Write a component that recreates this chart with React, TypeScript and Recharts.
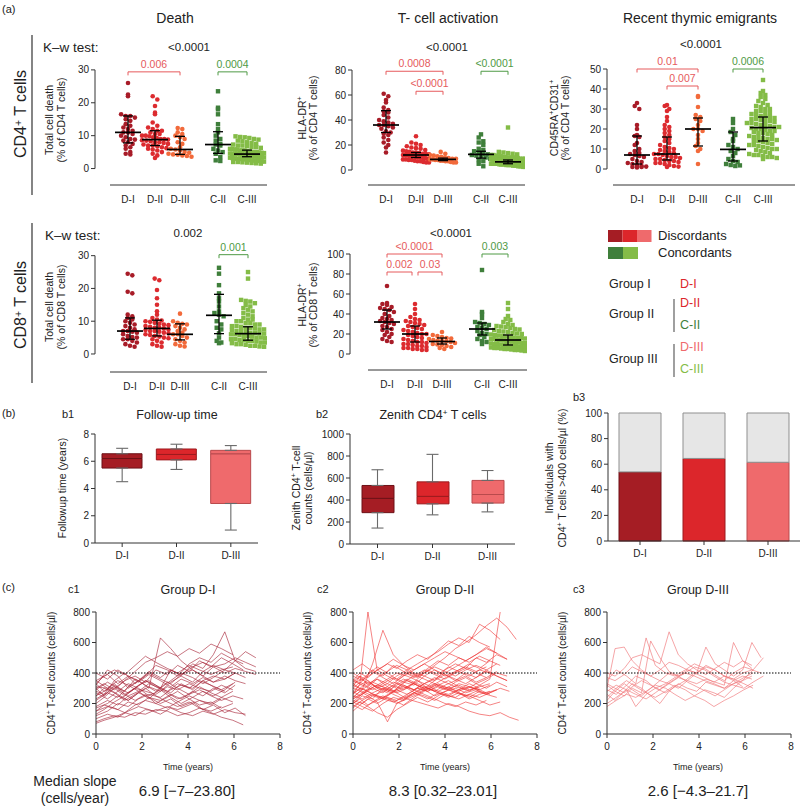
import React from 'react';
import {
  ScatterChart,
  Scatter,
  ComposedChart,
  BarChart,
  Bar,
  Cell,
  ErrorBar,
  LineChart,
  Line,
  XAxis,
  YAxis,
  ReferenceLine,
} from 'recharts';

const FONT = '"Liberation Sans", Arial, Helvetica, sans-serif';
const INK = '#222';
const AX = '#333';

const groups = ['D-I', 'D-II', 'D-III', 'C-II', 'C-III'];
const discGroups = ['D-I', 'D-II', 'D-III'];
const dotColors = ['#a81c28', '#dc2b2f', '#f26a3b', '#3f7f3b', '#84bc47'];
const discColors = ['#a51d24', '#dc262b', '#ef6a6c'];
const discStroke = ['#6d1117', '#9c1a1e', '#b94a4c'];
const concColors = ['#3f7f3b', '#84bc47'];
const RED = '#e65a5c';
const GREEN = '#4f9a45';

// ---- (a) CD4 total cell death
const cd4DeathDI = [26, 22.5, 22, 16.5, 16, 16, 15.5, 15, 14.5, 13.5, 13, 12.5, 12, 11.5, 11, 11, 10.5, 10, 9.5, 9, 8.8, 8.5, 8, 7.5, 7, 6.5, 6, 5, 4.5, 4.3];
const cd4DeathDII = [22, 21, 19, 17, 16.5, 14, 13, 12.5, 12, 11.5, 11.5, 11, 10.5, 10.5, 10, 10, 9.8, 9.5, 9.3, 9, 9, 8.8, 8.6, 8.5, 8.3, 8, 8, 7.8, 7.5, 7.3, 7, 7, 6.8, 6.5, 6.2, 6, 5.8, 5.5, 5, 4.5, 4, 3.2];
const cd4DeathDIII = [12.3, 12, 11, 10.5, 10, 9.5, 9, 8, 7.5, 6.5, 6, 5.8, 5.5, 5, 4.8, 4.5, 4.3, 4.2, 4, 3.8, 3.6];
const cd4DeathCII = [23.5, 18.5, 18, 16.5, 13.5, 12, 11, 10, 9, 8.5, 7.5, 7.3, 7, 6, 5.5, 5, 4.5, 3.5, 2.5, 2.3];
const cd4DeathCIII = [9.8, 9.6, 9.5, 9.3, 9, 8.8, 8.5, 8.3, 8, 7.8, 7.5, 7.3, 7, 7, 6.8, 6.5, 6.5, 6.3, 6, 6, 5.8, 5.8, 5.5, 5.5, 5.5, 5.3, 5.2, 5, 5, 5, 4.9, 4.8, 4.7, 4.6, 4.5, 4.5, 4.5, 4.4, 4.3, 4.2, 4.1, 4, 4, 4, 3.9, 3.8, 3.7, 3.6, 3.5, 3.5, 3.4, 3.3, 3.2, 3.1, 3, 3, 2.9, 2.8, 2.7, 2.6, 2.5, 2.5, 2.4, 2.3, 2.2, 2.1, 2, 2, 1.9, 1.8, 1.7, 1.6, 1.5];
// median, q1, q3 per group
const cd4DeathStats = [[11, 7.8, 16], [8.8, 7, 11.5], [5.8, 4.3, 9.8], [7.3, 4.6, 11.2], [4.4, 3.6, 5.6]];

// ---- (a) CD4 HLA-DR+
const cd4HlaDI = [61, 59, 56, 54, 50, 48, 47, 46, 44, 42, 40, 39, 38, 37, 36, 36, 35, 34, 33, 31, 30, 29, 28, 26, 24, 22, 20, 18, 14];
const cd4HlaDII = [27, 22, 21, 20, 19, 18, 17.5, 17, 16, 15.5, 15, 14.5, 14, 14, 13.5, 13, 13, 12.5, 12, 12, 12, 11.5, 11.5, 11, 11, 10.5, 10.5, 10, 10, 9.5, 9.5, 9, 9, 8.5, 8.5, 8, 8, 7.5, 7, 7, 6.5, 6, 6];
const cd4HlaDIII = [14.5, 13, 12, 11.5, 11, 10.5, 10, 9.5, 9, 9, 8.5, 8.5, 8, 8, 7.5, 7.5, 7, 7, 6.5, 6, 6];
const cd4HlaCII = [28.5, 26, 23, 22, 20, 17, 16, 15, 14, 13, 12.5, 12, 11.5, 11, 10, 9, 8, 7, 5, 3];
const cd4HlaCIII = [34, 14.5, 14, 13.5, 13, 12.5, 12, 12, 11.5, 11, 11, 10.5, 10.5, 10, 10, 10, 9.5, 9.5, 9, 9, 9, 8.5, 8.5, 8.5, 8, 8, 8, 8, 7.5, 7.5, 7.5, 7, 7, 7, 7, 6.5, 6.5, 6.5, 6.5, 6, 6, 6, 6, 6, 5.5, 5.5, 5.5, 5.5, 5, 5, 5, 5, 5, 4.5, 4.5, 4.5, 4.5, 4, 4, 4, 4, 3.5, 3.5, 3.5, 3, 3, 3, 2.5, 2.5];
const cd4HlaStats = [[36, 30, 47.5], [12, 10, 14], [8.5, 7.5, 9.5], [12.5, 9.5, 15], [6.5, 5, 8]];

// ---- (a) Recent thymic emigrants
const rteDI = [33, 31.5, 30, 22, 20, 17, 16.5, 16, 13, 12, 10, 9, 8, 7.5, 7, 6.5, 6, 5, 4, 3.5, 3, 2.5, 2, 1.5, 1.2, 1, 0.8, 1];
const rteDII = [32, 31.5, 30, 29, 26, 24, 22, 21, 20, 19, 18, 17, 16, 15, 14, 13, 12, 11, 10.5, 10, 9.5, 9, 8.5, 8, 7.5, 7.5, 7, 6.5, 6, 6, 5.5, 5, 5, 4.5, 4, 4, 3.5, 3, 3, 2.5, 2, 1.5, 1.2, 1];
const rteDIII = [36.5, 36, 31, 27, 26, 25, 24, 22, 20, 20, 19, 17, 15, 13, 11.5, 10, 9, 2.5];
const rteCII = [25, 23, 20, 18.5, 17, 15, 14, 12, 11, 10, 9, 8, 6.5, 5, 4, 3.5, 2.5, 2, 1.5, 1.8];
const rteCIII = [44.5, 39, 38, 37, 36, 35, 34, 33, 32, 31.5, 31, 30, 30, 29, 29, 28, 28, 27.5, 27, 26.5, 26, 26, 25.5, 25, 25, 24.5, 24, 24, 23.5, 23, 23, 22.5, 22, 22, 21.5, 21, 21, 20.5, 20, 20, 19.5, 19, 19, 18.5, 18, 18, 17.5, 17, 16.5, 16, 16, 15.5, 15, 15, 14.5, 14, 14, 13.5, 13, 12.5, 12, 12, 11.5, 11, 10.5, 10, 10, 9.5, 9, 8.5, 8, 7.5, 7, 7, 6.5, 6, 6, 5.5, 5];
const rteStats = [[7, 2.5, 16.5], [7.5, 4.5, 16], [20, 11.5, 25.5], [9.8, 4, 18.5], [20.7, 14, 26]];

// ---- (a) CD8 total cell death
const cd8DeathDI = [24.5, 24, 19, 18.5, 12, 11.5, 11, 10.5, 10, 9.5, 9, 8.5, 8, 7.5, 7, 7, 6.8, 6.5, 6, 5.5, 5.2, 5, 4.5, 4.5, 4, 3.5, 3, 2.5, 2.2];
const cd8DeathDII = [23, 22.5, 19.5, 17, 15, 13, 12, 11, 10.5, 10.2, 10, 9.8, 9.5, 9.2, 9, 8.8, 8.5, 8.3, 8, 8, 7.8, 7.5, 7.3, 7, 7, 6.8, 6.5, 6.3, 6, 5.8, 5.5, 5.3, 5, 4.8, 4.5, 4, 3.5, 3, 2.5, 2.2];
const cd8DeathDIII = [12.3, 10, 9.5, 9.2, 9, 8.5, 8, 7.5, 7, 6.5, 6, 6, 5.5, 5, 4.5, 4, 3.5, 3, 2.5, 2.3];
const cd8DeathCII = [26.3, 24.5, 21, 18.5, 17, 16, 14.5, 13, 12.5, 12, 11.5, 10, 9, 8, 7.5, 6.3, 5, 4, 3.5, 3.3];
const cd8DeathCIII = [25, 23, 16.5, 16.2, 16, 15.5, 15, 14.5, 14, 13.5, 13, 12.5, 12, 11.5, 11, 10.5, 10.5, 10, 10, 9.5, 9.5, 9, 9, 8.5, 8.5, 8.3, 8, 8, 7.8, 7.5, 7.5, 7.3, 7, 7, 6.8, 6.5, 6.5, 6.3, 6.2, 6, 6, 5.8, 5.5, 5.5, 5.3, 5, 5, 4.8, 4.5, 4.5, 4.3, 4.2, 4, 4, 3.8, 3.5, 3.5, 3.3, 3, 3, 2.8, 2.5, 2.5, 2.3, 2.2];
const cd8DeathStats = [[7, 4.5, 11], [7.8, 5.5, 10.3], [6, 4.3, 9.2], [11.8, 6.2, 18.2], [6.2, 4.2, 8.3]];

// ---- (a) CD8 HLA-DR+
const cd8HlaDI = [68, 51, 50, 49, 47, 46, 45, 44, 42, 40, 38, 36, 35, 34, 33, 32, 31, 30, 28, 27, 25, 24, 22, 20, 19, 17, 15, 13, 12];
const cd8HlaDII = [50, 45, 40, 37, 35, 34, 33, 32, 31, 30, 29, 28, 27, 26, 25, 24, 23, 22, 21, 20, 20, 19, 18, 17, 16, 15, 14, 13, 12, 12, 11, 10, 10, 9, 8, 8, 7, 6, 6, 5, 5, 4, 4];
const cd8HlaDIII = [22, 19, 18, 17, 16, 15.5, 15, 14, 13.5, 13, 12.5, 12, 11, 10, 9.5, 9, 8, 7, 6, 5];
const cd8HlaCII = [84, 42, 40, 36, 32, 31, 30, 29, 27, 26, 25, 23, 21, 20, 19, 17, 15, 13, 12, 10];
const cd8HlaCIII = [51, 45, 38, 35, 34, 32, 30, 29, 28, 27.5, 27, 26, 25, 24.5, 24, 23, 22.5, 22, 21, 20.5, 20, 19.5, 19, 18.5, 18, 17.5, 17, 16.5, 16, 16, 15.5, 15, 15, 14.5, 14, 14, 13.5, 13, 13, 12.5, 12, 12, 11.5, 11, 11, 10.5, 10, 10, 9.5, 9, 9, 8.5, 8, 8, 7.5, 7, 7, 6.5, 6, 6, 5.5, 5, 5, 4.5, 4, 4, 3.5, 3];
const cd8HlaStats = [[32, 25, 44], [20, 12, 28], [12.5, 10, 16], [25, 19, 31], [14, 9, 19]];

// ---- (b) box plots: min, q1, median, q3, max
const followMin = [4.5, 5.4, 0.95];
const followQ1 = [5.5, 6.1, 2.9];
const followMed = [6.2, 6.5, 6.55];
const followQ3 = [6.55, 6.9, 6.8];
const followMax = [6.95, 7.25, 7.15];

const zenithMin = [145, 265, 292];
const zenithQ1 = [285, 365, 372];
const zenithMed = [415, 433, 450];
const zenithQ3 = [532, 565, 578];
const zenithMax = [675, 815, 668];

const above400Pct = [54, 64.5, 61.5];

// ---- (c) CD4 counts over time (years)
const c1TimesA = [0, 0.35, 0.8, 1.25, 1.7, 2.15, 2.6, 3.1, 3.55, 4.05, 4.5, 5.0, 5.45, 5.95, 6.4, 6.9, 7.3];
const c1TimesB = [0, 0.5, 0.95, 1.4, 1.85, 2.3, 2.8, 3.25, 3.7, 4.2, 4.65, 5.1, 5.6, 6.05, 6.5, 6.95];
const c1Counts = [
  [300, 330, 290, 350, 380, 340, 420, 390, 450, 410, 480, 440, 500, 460, 420],
  [150, 180, 160, 210, 190, 240, 220, 260, 230, 280, 250, 300, 270, 320],
  [80, 100, 120, 110, 140, 130, 160, 150, 120, 140, 170, 150, 180],
  [320, 420, 380, 300, 350, 400, 360, 330, 390, 420, 380, 440, 400, 430, 410, 390],
  [250, 280, 330, 260, 300, 350, 320, 280, 330, 300, 350, 320, 290, 330],
  [350, 300, 260, 220, 270, 240, 200, 230, 180, 210, 160, 190, 140, 170, 120],
  [200, 240, 300, 350, 410, 470, 500, 540, 510, 560, 530, 590, 560, 520],
  [120, 150, 200, 180, 230, 260, 240, 290, 320, 300, 350, 380, 360, 400, 370],
  [280, 260, 350, 400, 330, 380, 450, 420, 380, 460, 500, 470, 530, 490, 460],
  [180, 220, 190, 250, 280, 230, 300, 270, 330, 290, 350, 310, 280],
  [330, 380, 420, 390, 450, 510, 470, 430, 400, 450, 420, 390, 420, 440],
  [100, 130, 110, 150, 180, 160, 130, 170, 140, 120, 150, 130, 160, 140, 130],
  [300, 250, 320, 280, 360, 320, 280, 340, 300, 260, 310, 270, 240, 280],
  [220, 270, 240, 310, 350, 300, 630, 560, 480, 420, 380, 340, 360, 400],
  [330, 280, 310, 260, 220, 260, 200, 240, 280, 230, 190, 210, 170, 200],
  [170, 200, 250, 220, 270, 310, 280, 340, 380, 340, 410, 450, 420, 480, 540, 500],
  [250, 300, 270, 220, 260, 300, 250, 210, 180, 210, 170, 140, 110, 90, 60],
  [400, 360, 420, 380, 340, 390, 350, 310, 360, 330, 370, 340, 380, 350, 330],
  [150, 190, 170, 140, 190, 220, 200, 170, 210, 250, 220, 190, 230],
  [290, 340, 300, 270, 320, 350, 300, 420, 380, 460, 430, 520, 670, 480, 430, 410],
  [130, 160, 210, 250, 300, 280, 260, 310, 290, 330, 300, 280, 320, 290],
  [350, 390, 330, 380, 350, 410, 370, 420, 390, 440, 470, 440, 460, 500, 470, 440],
  [230, 260, 300, 250, 300, 350, 310, 270, 230, 260, 290, 250, 220, 250, 230],
  [310, 300, 350, 320, 280, 330, 300, 350, 400, 370, 330, 370, 420, 400],
  [70, 90, 110, 140, 120, 160, 150, 180, 160, 190, 220, 200, 240, 210],
  [270, 230, 280, 330, 300, 250, 290, 240, 200, 240, 280, 250, 290, 340],
];

const c2TimesA = [0, 0.3, 0.65, 1.05, 1.5, 1.9, 2.35, 2.8, 3.25, 3.7, 4.15, 4.6, 5.05, 5.5, 5.95, 6.4, 6.8, 7.2];
const c2TimesB = [0, 0.4, 0.85, 1.3, 1.75, 2.2, 2.65, 3.1, 3.55, 4.0, 4.45, 4.9, 5.35, 5.8, 6.25, 6.7, 7.1, 7.4];
const c2Counts = [
  [260, 330, 800, 420, 380, 350, 400, 370, 420, 390, 440, 410, 380, 420, 400],
  [200, 250, 230, 300, 280, 340, 320, 380, 350, 420, 460, 430, 500, 470, 520, 490],
  [330, 300, 280, 250, 230, 200, 230, 210, 190, 170, 200, 180, 150, 130, 120, 140, 110, 90],
  [240, 290, 460, 680, 520, 450, 400, 380, 420, 390, 350, 380, 340, 370],
  [300, 340, 310, 360, 330, 300, 350, 320, 290, 330, 300, 280, 310, 290, 320],
  [180, 220, 260, 240, 280, 310, 290, 330, 360, 400, 440, 480, 520, 570, 530, 490],
  [350, 400, 370, 420, 460, 430, 480, 520, 490, 550, 610, 580, 640, 600, 570],
  [220, 200, 250, 230, 210, 240, 270, 250, 220, 260, 240, 280, 300, 270, 290],
  [280, 320, 350, 300, 330, 380, 420, 460, 500, 540, 590, 630, 600, 720, 680, 620],
  [250, 230, 270, 300, 260, 230, 270, 300, 330, 300, 270, 250, 280, 260, 240],
  [310, 380, 350, 300, 270, 330, 300, 350, 320, 280, 310, 270, 230, 260, 280],
  [190, 160, 210, 250, 220, 190, 240, 280, 320, 290, 340, 370, 330, 360, 400, 380],
  [360, 330, 390, 440, 400, 360, 410, 380, 430, 480, 450, 500, 470, 510, 480],
  [230, 260, 300, 270, 320, 290, 340, 400, 450, 500, 560, 600, 650, 710, 760, 700, 620],
  [400, 370, 330, 360, 310, 270, 300, 260, 230, 270, 250, 290, 330, 300],
  [270, 300, 260, 230, 280, 320, 290, 330, 370, 340, 310, 290, 330, 300, 340, 310],
  [170, 210, 180, 140, 110, 160, 200, 240, 210, 250, 290, 270, 240, 280],
  [330, 360, 420, 380, 450, 410, 370, 400, 440, 410, 380, 420, 450, 420, 460],
  [210, 250, 290, 320, 360, 400, 380, 350, 300, 270, 250, 230, 260, 240, 270, 300, 280],
  [300, 280, 250, 280, 320, 360, 330, 300, 350, 390, 360, 330, 370, 420, 380, 350],
  [240, 280, 250, 210, 80, 200, 240, 270, 300, 280, 260, 290, 310, 290],
  [350, 320, 290, 330, 370, 340, 380, 420, 390, 360, 400, 430, 400, 370, 410],
  [260, 300, 340, 310, 280, 320, 360, 330, 300, 270, 240, 270, 250, 220, 190, 210],
  [420, 460, 410, 370, 330, 380, 420, 460, 500, 540, 510, 480, 520, 560, 530],
  [200, 230, 190, 220, 250, 290, 260, 300, 280, 320, 350, 310, 280, 320, 360, 800],
  [320, 290, 340, 310, 270, 300, 330, 290, 250, 280, 300, 270, 290, 260, 290],
  [150, 190, 230, 200, 240, 220, 260, 300, 280, 310, 290, 330, 310, 280, 260],
  [380, 350, 400, 440, 490, 450, 420, 460, 420, 380, 410, 440, 410, 440],
  [280, 250, 290, 320, 300, 270, 230, 260, 300, 340, 380, 420, 460, 430, 480, 450],
  [230, 270, 320, 290, 340, 320, 290, 260, 230, 200, 180, 210, 190, 220],
  [340, 380, 320, 370, 410, 450, 420, 380, 350, 320, 300, 320, 290, 310, 330],
  [210, 180, 150, 200, 240, 220, 270, 310, 280, 320, 350, 400, 370, 410, 380, 350],
];

const c3TimesA = [0, 0.35, 0.75, 1.1, 1.5, 1.9, 2.3, 2.7, 3.1, 3.5, 3.9, 4.3, 4.7, 5.1, 5.5, 5.9, 6.3, 6.7, 7.1];
const c3TimesB = [0, 0.4, 0.85, 1.25, 1.7, 2.1, 2.55, 2.95, 3.4, 3.8, 4.25, 4.65, 5.1, 5.5, 5.95, 6.35, 6.8, 7.1];
const c3Counts = [
  [300, 560, 570, 480, 420, 380, 350, 400, 380, 420, 400, 440, 420, 380, 360, 400, 420, 400],
  [350, 420, 380, 330, 630, 450, 400, 380, 420, 460, 430, 390, 350, 400, 440, 420],
  [260, 220, 280, 330, 300, 250, 200, 280, 330, 300, 280, 340, 320, 300, 350, 380, 360],
  [200, 240, 290, 260, 230, 270, 320, 360, 400, 440, 420, 380, 340, 320, 300, 340, 380],
  [400, 380, 430, 500, 520, 490, 460, 670, 520, 460, 420, 390, 430, 470, 440, 480, 450],
  [280, 320, 290, 180, 260, 300, 330, 370, 400, 380, 350, 330, 300, 330, 370, 400],
  [320, 280, 250, 300, 270, 610, 500, 410, 380, 340, 310, 280, 250, 290, 330, 350, 380],
  [180, 220, 260, 240, 280, 320, 300, 260, 220, 250, 290, 270, 240, 300, 360, 420, 500],
  [370, 350, 390, 440, 410, 380, 420, 470, 450, 420, 400, 570, 460, 420, 380, 420, 600, 500],
  [240, 300, 350, 310, 270, 240, 280, 320, 290, 250, 220, 180, 220, 250, 290, 320],
  [330, 300, 270, 310, 350, 320, 290, 330, 370, 350, 330, 360, 340, 320, 600, 480, 430],
  [290, 260, 320, 380, 350, 300, 270, 310, 350, 400, 370, 340, 380, 360, 330, 300],
  [220, 280, 330, 290, 250, 300, 350, 330, 300, 350, 400, 450, 420, 380, 350, 310],
];

const YW = 30;
const XH = 22;
const tickStyle = { fontSize: 10, fill: INK };

// scatter-dot layout: points in the same height band are spread sideways
function swarm(values: number[], cx: number, ppu: number, maxHalf: number) {
  const bins = new Map<number, number[]>();
  values.forEach((v) => {
    const b = Math.round((v * ppu) / 4.4);
    if (!bins.has(b)) bins.set(b, []);
    bins.get(b)!.push(v);
  });
  const pts: { x: number; y: number }[] = [];
  bins.forEach((list) => {
    const n = list.length;
    const step = n > 1 ? Math.min(4.6, (2 * maxHalf) / (n - 1)) : 0;
    list.forEach((v, i) => pts.push({ x: cx + (i - (n - 1) / 2) * step, y: v }));
  });
  return pts;
}

type Br = { a: number; b: number; v: number; text: string; color: string; pa?: number; pb?: number };
type PanelProps = {
  axisX: number;
  top: number;
  bottom: number;
  width: number;
  domain: [number, number];
  ticks: number[];
  catX: number[];
  axisStart: number;
  values: number[][];
  stats: number[][];
  brackets: Br[];
};

const ScatterPanel = (p: PanelProps) => {
  const h = p.bottom - p.top;
  const ppu = h / (p.domain[1] - p.domain[0]);
  const topTick = p.ticks[p.ticks.length - 1];
  const drop = 3.5 / ppu;
  return (
    <div style={{ position: 'absolute', left: p.axisX - YW, top: p.top }}>
      <ScatterChart width={YW + p.width + 4} height={h + XH} margin={{ top: 0, right: 4, bottom: 0, left: 0 }}>
        <XAxis
          type="number"
          dataKey="x"
          domain={[0, p.width]}
          allowDataOverflow
          ticks={p.catX}
          interval={0}
          tickFormatter={(v) => groups[p.catX.indexOf(v)]}
          axisLine={false}
          tickLine={false}
          tickMargin={5}
          height={XH}
          tick={tickStyle}
        />
        <YAxis
          type="number"
          dataKey="y"
          domain={p.domain}
          allowDataOverflow
          ticks={p.ticks}
          interval={0}
          width={YW}
          axisLine={false}
          tickSize={4}
          tickLine={{ stroke: AX }}
          tick={tickStyle}
        />
        {p.values.map((vals, gi) => (
          <Scatter
            key={gi}
            data={swarm(vals, p.catX[gi], ppu, gi === 4 ? 17 : 13)}
            fill={dotColors[gi]}
            isAnimationActive={false}
            shape={(s: any) =>
              gi >= 3 ? (
                <rect x={s.cx - 2.2} y={s.cy - 2.2} width={4.4} height={4.4} fill={dotColors[gi]} />
              ) : (
                <circle cx={s.cx} cy={s.cy} r={2.3} fill={dotColors[gi]} />
              )
            }
          />
        ))}
        <ReferenceLine segment={[{ x: 0, y: 0 }, { x: 0, y: topTick }]} stroke={AX} />
        <ReferenceLine segment={[{ x: p.axisStart, y: p.domain[0] }, { x: p.width, y: p.domain[0] }]} stroke={AX} />
        {p.stats.map(([m, q1, q3], gi) => {
          const cx = p.catX[gi];
          return (
            <React.Fragment key={'s' + gi}>
              <ReferenceLine segment={[{ x: cx - 13, y: m }, { x: cx + 13, y: m }]} stroke="#000" strokeWidth={1.7} zIndex={900} />
              <ReferenceLine segment={[{ x: cx, y: q1 }, { x: cx, y: q3 }]} stroke="#000" strokeWidth={1.3} zIndex={900} />
              <ReferenceLine segment={[{ x: cx - 5, y: q1 }, { x: cx + 5, y: q1 }]} stroke="#000" strokeWidth={1.3} zIndex={900} />
              <ReferenceLine segment={[{ x: cx - 5, y: q3 }, { x: cx + 5, y: q3 }]} stroke="#000" strokeWidth={1.3} zIndex={900} />
            </React.Fragment>
          );
        })}
        {p.brackets.map((br, i) => {
          const x1 = p.catX[br.a] + (br.pa || 0);
          const x2 = p.catX[br.b] - (br.pb || 0);
          return (
            <React.Fragment key={'b' + i}>
              <ReferenceLine
                segment={[{ x: x1, y: br.v }, { x: x2, y: br.v }]}
                stroke={br.color}
                label={{ value: br.text, position: 'top', fill: br.color, fontSize: 10.5, offset: 4 }}
              />
              <ReferenceLine segment={[{ x: x1, y: br.v }, { x: x1, y: br.v - drop }]} stroke={br.color} />
              <ReferenceLine segment={[{ x: x2, y: br.v }, { x: x2, y: br.v - drop }]} stroke={br.color} />
            </React.Fragment>
          );
        })}
      </ScatterChart>
    </div>
  );
};

type BoxProps = {
  axisX: number;
  top: number;
  bottom: number;
  width: number;
  domain: [number, number];
  ticks: number[];
  mins: number[];
  q1s: number[];
  meds: number[];
  q3s: number[];
  maxs: number[];
  barSize: number;
};

const BoxPanel = (p: BoxProps) => {
  const h = p.bottom - p.top;
  const rows = discGroups.map((name, i) => ({
    name,
    base: p.q1s[i],
    lower: p.meds[i] - p.q1s[i],
    upper: p.q3s[i] - p.meds[i],
  }));
  const upperWhisker = discGroups.map((name, i) => ({ name, y: p.q3s[i], err: [0, p.maxs[i] - p.q3s[i]] }));
  const lowerWhisker = discGroups.map((name, i) => ({ name, y: p.q1s[i], err: [p.q1s[i] - p.mins[i], 0] }));
  const whisk = '#6a6a6a';
  return (
    <div style={{ position: 'absolute', left: p.axisX - YW, top: p.top - 6 }}>
      <ComposedChart width={YW + p.width + 8} height={6 + h + XH} data={rows} margin={{ top: 6, right: 8, bottom: 0, left: 0 }}>
        <XAxis dataKey="name" allowDuplicatedCategory={false} tickSize={4} tickMargin={5} height={XH} stroke={AX} tick={tickStyle} />
        <YAxis dataKey="y" domain={p.domain} ticks={p.ticks} interval={0} width={YW} tickSize={4} stroke={AX} tick={tickStyle} allowDataOverflow />
        <Scatter data={upperWhisker} dataKey="y" shape={() => <g />} isAnimationActive={false}>
          <ErrorBar dataKey="err" direction="y" width={6} stroke={whisk} strokeWidth={1.1} />
        </Scatter>
        <Scatter data={lowerWhisker} dataKey="y" shape={() => <g />} isAnimationActive={false}>
          <ErrorBar dataKey="err" direction="y" width={6} stroke={whisk} strokeWidth={1.1} />
        </Scatter>
        <Bar dataKey="base" stackId="b" fill="none" barSize={p.barSize} isAnimationActive={false} />
        <Bar dataKey="lower" stackId="b" barSize={p.barSize} isAnimationActive={false}>
          {rows.map((r, i) => (
            <Cell key={r.name} fill={discColors[i]} stroke={discStroke[i]} strokeWidth={1} />
          ))}
        </Bar>
        <Bar dataKey="upper" stackId="b" barSize={p.barSize} isAnimationActive={false}>
          {rows.map((r, i) => (
            <Cell key={r.name} fill={discColors[i]} stroke={discStroke[i]} strokeWidth={1} />
          ))}
        </Bar>
      </ComposedChart>
    </div>
  );
};

const PctPanel = () => {
  const rows = discGroups.map((name, i) => ({ name, above: above400Pct[i], rest: 100 - above400Pct[i] }));
  return (
    <div style={{ position: 'absolute', left: 608 - YW, top: 413 - 6 }}>
      <BarChart width={YW + 192} height={6 + 128 + XH} data={rows} margin={{ top: 6, right: 0, bottom: 0, left: 0 }}>
        <XAxis dataKey="name" tickSize={4} tickMargin={5} height={XH} stroke={AX} tick={tickStyle} />
        <YAxis domain={[0, 100]} ticks={[0, 20, 40, 60, 80, 100]} interval={0} width={YW} tickSize={4} stroke={AX} tick={tickStyle} />
        <Bar dataKey="above" stackId="s" barSize={42} isAnimationActive={false}>
          {rows.map((r, i) => (
            <Cell key={r.name} fill={discColors[i]} stroke={discStroke[i]} strokeWidth={1} />
          ))}
        </Bar>
        <Bar dataKey="rest" stackId="s" barSize={42} fill="#e6e6e6" stroke="#8f8f8f" strokeWidth={1} isAnimationActive={false} />
      </BarChart>
    </div>
  );
};

type LineProps = { axisX: number; lines: number[][]; timesA: number[]; timesB: number[]; color: string; opacity: number };

const LinePanel = (p: LineProps) => (
  <div style={{ position: 'absolute', left: p.axisX - YW, top: 612 - 6 }}>
    <LineChart width={YW + 184 + 8} height={6 + 122 + XH} margin={{ top: 6, right: 8, bottom: 0, left: 0 }}>
      <XAxis type="number" dataKey="t" domain={[0, 8]} ticks={[0, 2, 4, 6, 8]} interval={0} allowDataOverflow tickSize={4} tickMargin={5} height={XH} stroke={AX} tick={tickStyle} />
      <YAxis type="number" domain={[0, 800]} ticks={[0, 200, 400, 600, 800]} interval={0} allowDataOverflow width={YW} tickSize={4} stroke={AX} tick={tickStyle} />
      {p.lines.map((vals, i) => {
        const times = i % 2 ? p.timesB : p.timesA;
        return (
          <Line
            key={i}
            data={vals.map((v, k) => ({ t: times[k], v }))}
            dataKey="v"
            stroke={p.color}
            strokeWidth={0.8}
            strokeOpacity={p.opacity}
            dot={false}
            isAnimationActive={false}
          />
        );
      })}
      <ReferenceLine y={400} stroke="#000" strokeWidth={1} strokeDasharray="1.5 1.5" />
    </LineChart>
  </div>
);

const Txt = ({ x, y, size = 10, anchor = 'start', fill = INK, rotate = false, children }: any) => (
  <text x={x} y={y} fontSize={size} textAnchor={anchor} fill={fill} transform={rotate ? `rotate(-90 ${x} ${y})` : undefined}>
    {children}
  </text>
);

// superscript followed by text back on the baseline
const sup = (s: string, rest = '') => (
  <>
    <tspan dy={-4} fontSize="65%">{s}</tspan>
    <tspan dy={4}>{rest}</tspan>
  </>
);

export default function App() {
  return (
    <div style={{ position: 'absolute', left: 0, top: 0, width: 800, height: 806, background: '#fff', fontFamily: FONT, overflow: 'hidden' }}>
      <ScatterPanel
        axisX={95} top={37} bottom={185} width={172} domain={[-5, 40]} ticks={[0, 10, 20, 30]}
        catX={[33, 60, 85, 123, 152]} axisStart={15}
        values={[cd4DeathDI, cd4DeathDII, cd4DeathDIII, cd4DeathCII, cd4DeathCIII]} stats={cd4DeathStats}
        brackets={[
          { a: 0, b: 2, v: 29.4, text: '0.006', color: RED },
          { a: 3, b: 4, v: 29.4, text: '0.0004', color: GREEN },
        ]}
      />
      <ScatterPanel
        axisX={352} top={45} bottom={185} width={173} domain={[-12, 100]} ticks={[0, 20, 40, 60, 80]}
        catX={[34, 64, 91, 129, 156]} axisStart={16}
        values={[cd4HlaDI, cd4HlaDII, cd4HlaDIII, cd4HlaCII, cd4HlaCIII]} stats={cd4HlaStats}
        brackets={[
          { a: 0, b: 2, v: 79, text: '0.0008', color: RED },
          { a: 1, b: 2, v: 63, text: '<0.0001', color: RED },
          { a: 3, b: 4, v: 79, text: '<0.0001', color: GREEN },
        ]}
      />
      <ScatterPanel
        axisX={607} top={45} bottom={185} width={188} domain={[-8, 62]} ticks={[0, 10, 20, 30, 40, 50]}
        catX={[30, 60, 91, 126, 156]} axisStart={6}
        values={[rteDI, rteDII, rteDIII, rteCII, rteCIII]} stats={rteStats}
        brackets={[
          { a: 0, b: 2, v: 50, text: '0.01', color: RED },
          { a: 1, b: 2, v: 41.5, text: '0.007', color: RED },
          { a: 3, b: 4, v: 50, text: '0.0006', color: GREEN },
        ]}
      />
      <ScatterPanel
        axisX={95} top={236} bottom={372} width={172} domain={[-5.5, 36]} ticks={[0, 10, 20, 30]}
        catX={[35, 62, 85, 124, 153]} axisStart={15}
        values={[cd8DeathDI, cd8DeathDII, cd8DeathDIII, cd8DeathCII, cd8DeathCIII]} stats={cd8DeathStats}
        brackets={[{ a: 3, b: 4, v: 30.3, text: '0.001', color: GREEN }]}
      />
      <ScatterPanel
        axisX={350} top={236} bottom={370} width={177} domain={[-16, 118]} ticks={[0, 20, 40, 60, 80, 100]}
        catX={[37, 65, 92, 132, 158]} axisStart={18}
        values={[cd8HlaDI, cd8HlaDII, cd8HlaDIII, cd8HlaCII, cd8HlaCIII]} stats={cd8HlaStats}
        brackets={[
          { a: 0, b: 2, v: 100, text: '<0.0001', color: RED },
          { a: 0, b: 1, v: 82, text: '0.002', color: RED, pb: 3 },
          { a: 1, b: 2, v: 82, text: '0.03', color: RED, pa: 3 },
          { a: 3, b: 4, v: 100, text: '0.003', color: GREEN },
        ]}
      />

      <BoxPanel axisX={95} top={434} bottom={543} width={163} domain={[0, 8]} ticks={[0, 2, 4, 6, 8]}
        mins={followMin} q1s={followQ1} meds={followMed} q3s={followQ3} maxs={followMax} barSize={40} />
      <BoxPanel axisX={350} top={434} bottom={544} width={165} domain={[0, 1000]} ticks={[0, 200, 400, 600, 800, 1000]}
        mins={zenithMin} q1s={zenithQ1} meds={zenithMed} q3s={zenithQ3} maxs={zenithMax} barSize={32} />
      <PctPanel />

      <LinePanel axisX={96} lines={c1Counts} timesA={c1TimesA} timesB={c1TimesB} color="#a8283a" opacity={0.8} />
      <LinePanel axisX={353} lines={c2Counts} timesA={c2TimesA} timesB={c2TimesB} color="#ef3030" opacity={0.75} />
      <LinePanel axisX={607} lines={c3Counts} timesA={c3TimesA} timesB={c3TimesB} color="#f07a7c" opacity={0.85} />

      <svg width={800} height={806} style={{ position: 'absolute', left: 0, top: 0, pointerEvents: 'none' }} fontFamily={FONT}>
        {/* (a) */}
        <Txt x={2} y={13} size={11}>(a)</Txt>
        <Txt x={175} y={23} size={14} anchor="middle">Death</Txt>
        <Txt x={448} y={23} size={14} anchor="middle">T- cell activation</Txt>
        <Txt x={700} y={23} size={14} anchor="middle">Recent thymic emigrants</Txt>
        <Txt x={43} y={52} size={13.5}>K–w test:</Txt>
        <Txt x={189} y={51} size={11.5} anchor="middle">{'<0.0001'}</Txt>
        <Txt x={447} y={51} size={11.5} anchor="middle">{'<0.0001'}</Txt>
        <Txt x={701} y={48} size={11.5} anchor="middle">{'<0.0001'}</Txt>
        <Txt x={45} y={240} size={13.5}>K–w test:</Txt>
        <Txt x={188} y={237} size={11.5} anchor="middle">0.002</Txt>
        <Txt x={451} y={237} size={11.5} anchor="middle">{'<0.0001'}</Txt>

        <Txt x={26} y={114} size={16} anchor="middle" rotate>CD4{sup('+', ' T cells')}</Txt>
        <line x1={32} y1={35} x2={32} y2={195} stroke={AX} strokeWidth={1.2} />
        <Txt x={26} y={305} size={16} anchor="middle" rotate>CD8{sup('+', ' T cells')}</Txt>
        <line x1={32} y1={223} x2={32} y2={383} stroke={AX} strokeWidth={1.2} />

        <Txt x={53} y={120} size={10.5} anchor="middle" rotate>Total cell death</Txt>
        <Txt x={65} y={120} size={10.5} anchor="middle" rotate>(% of CD4 T cells)</Txt>
        <Txt x={306} y={118} size={10.5} anchor="middle" rotate>HLA-DR{sup('+')}</Txt>
        <Txt x={317} y={118} size={10.5} anchor="middle" rotate>(% of CD4 T cells)</Txt>
        <Txt x={558} y={118} size={10.5} anchor="middle" rotate>CD45RA{sup('+', 'CD31')}{sup('+')}</Txt>
        <Txt x={569} y={118} size={10.5} anchor="middle" rotate>(% of CD4 T cells)</Txt>
        <Txt x={53} y={307} size={10.5} anchor="middle" rotate>Total cell death</Txt>
        <Txt x={65} y={307} size={10.5} anchor="middle" rotate>(% of CD8 T cells)</Txt>
        <Txt x={306} y={305} size={10.5} anchor="middle" rotate>HLA-DR{sup('+')}</Txt>
        <Txt x={317} y={305} size={10.5} anchor="middle" rotate>(% of CD8 T cells)</Txt>

        {/* legend */}
        {discColors.map((c, i) => (
          <rect key={c} x={608 + i * 14.5} y={230} width={14.5} height={12} fill={c} />
        ))}
        <Txt x={658} y={240} size={13}>Discordants</Txt>
        {concColors.map((c, i) => (
          <rect key={c} x={608 + i * 15} y={247} width={15} height={12} fill={c} />
        ))}
        <Txt x={658} y={257} size={13}>Concordants</Txt>
        <Txt x={609} y={288} size={12.5}>Group I</Txt>
        <Txt x={680} y={288} size={12.5} fill={discColors[1]}>D-I</Txt>
        <Txt x={609} y={318} size={12.5}>Group II</Txt>
        <line x1={674} y1={299} x2={674} y2={332} stroke="#888" strokeWidth={1.6} />
        <Txt x={680} y={307} size={12.5} fill={discColors[1]}>D-II</Txt>
        <Txt x={680} y={329} size={12.5} fill={concColors[0]}>C-II</Txt>
        <Txt x={609} y={363} size={12.5}>Group III</Txt>
        <line x1={674} y1={344} x2={674} y2={377} stroke="#888" strokeWidth={1.6} />
        <Txt x={680} y={351} size={12.5} fill={discColors[2]}>D-III</Txt>
        <Txt x={680} y={373} size={12.5} fill={concColors[1]}>C-III</Txt>

        {/* (b) */}
        <Txt x={2} y={417} size={11}>(b)</Txt>
        <Txt x={62} y={418} size={11}>b1</Txt>
        <Txt x={177} y={419} size={12.5} anchor="middle">Follow-up time</Txt>
        <Txt x={66} y={488} size={10.5} anchor="middle" rotate>Followup time (years)</Txt>
        <Txt x={316} y={418} size={11}>b2</Txt>
        <Txt x={433} y={419} size={12.5} anchor="middle">Zenith CD4{sup('+', ' T cells')}</Txt>
        <Txt x={300} y={488} size={10.5} anchor="middle" rotate>Zenith CD4{sup('+', ' T-cell')}</Txt>
        <Txt x={312} y={488} size={10.5} anchor="middle" rotate>counts (cells/µl)</Txt>
        <Txt x={573} y={401} size={11}>b3</Txt>
        <Txt x={553} y={478} size={10.5} anchor="middle" rotate>Individuals with</Txt>
        <Txt x={566} y={478} size={10.5} anchor="middle" rotate>CD4{sup('+', ' T cells >400 cells/µl (%)')}</Txt>

        {/* (c) */}
        <Txt x={2} y={591} size={11}>(c)</Txt>
        <Txt x={68} y={593} size={11}>c1</Txt>
        <Txt x={188} y={594} size={12.5} anchor="middle">Group D-I</Txt>
        <Txt x={317} y={593} size={11}>c2</Txt>
        <Txt x={445} y={594} size={12.5} anchor="middle">Group D-II</Txt>
        <Txt x={573} y={593} size={11}>c3</Txt>
        <Txt x={698} y={594} size={12.5} anchor="middle">Group D-III</Txt>
        {[55, 311, 566].map((x) => (
          <Txt key={x} x={x} y={673} size={10} anchor="middle" rotate>CD4{sup('+', ' T-cell counts (cells/µl)')}</Txt>
        ))}
        {[188, 445, 698].map((x) => (
          <Txt key={x} x={x} y={770} size={9} anchor="middle">Time (years)</Txt>
        ))}
        <Txt x={75} y={786} size={14} anchor="middle">Median slope</Txt>
        <Txt x={75} y={803} size={14} anchor="middle">(cells/year)</Txt>
        <Txt x={187} y={796} size={15} anchor="middle">6.9 [−7–23.80]</Txt>
        <Txt x={443} y={796} size={15} anchor="middle">8.3 [0.32–23.01]</Txt>
        <Txt x={698} y={796} size={15} anchor="middle">2.6 [−4.3–21.7]</Txt>
      </svg>
    </div>
  );
}
